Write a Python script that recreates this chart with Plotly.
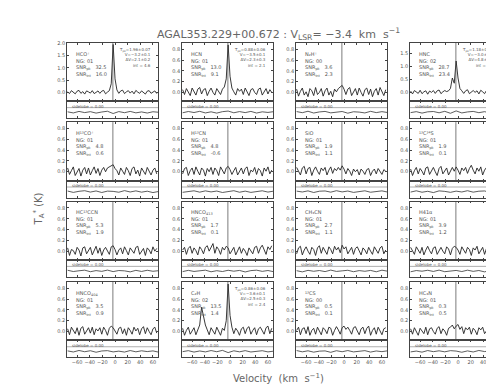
import plotly.graph_objects as go

# ---------------- data ----------------
velocity = [-75,-72,-69,-66,-63,-60,-57,-54,-51,-48,-45,-42,-39,-36,-33,-30,-27,-24,-21,-18,
            -15,-12,-9,-6,-3,0,3,6,9,12,15,18,21,24,27,30,33,36,39,42,45,48,51,54,57,60,63,66]
res_velocity = [-75,-66,-57,-48,-39,-30,-21,-12,-3,6,15,24,33,42,51,60,69]
v_lsr = -3.4

line_names = ["HCO⁺","HCN","N₂H⁺","HNC",
              "H¹³CO⁺","H¹³CN","SiO","¹³C³⁴S",
              "HC¹³CCN","HNCO<sub>413</sub>","CH₃CN","H41α",
              "HNCO<sub>404</sub>","C₂H","¹³CS","HC₃N"]
ng_labels = ["01","01","00","02","01","01","01","01","01","01","01","01","01","02","00","01"]
snr_pk = ["32.5","13.0","3.6","28.7","4.8","4.8","1.9","1.9","5.3","1.7","2.7","3.9","3.5","13.5","0.5","0.3"]
snr_int = ["16.0","9.1","2.3","23.4","0.6","-0.6","1.1","0.1","1.9","0.1","1.1","1.2","0.9","1.4","0.1","0.5"]
fit_text = {0: "T<sub>pk</sub>=1.96±0.07<br>V=−3.2±0.1<br>ΔV=2.1±0.2<br>int = 4.6",
            1: "T<sub>pk</sub>=0.88±0.06<br>V=−3.5±0.1<br>ΔV=2.3±0.3<br>int = 2.1",
            3: "T<sub>pk</sub>=1.18±0.07<br>V=−3.0±0.2<br>ΔV=4.8±0.4<br>int = 5.9",
            13: "T<sub>pk</sub>=0.86±0.06<br>V=−3.6±0.1<br>ΔV=2.5±0.3<br>int = 2.4"}

y_max = [2.02,0.92,0.92,1.90, 0.92,0.92,0.92,0.92, 0.92,0.92,0.92,0.92, 0.92,0.92,0.92,0.92]
y_ticks = [[0,0.5,1.0,1.5,2.0],[0,0.2,0.4,0.6,0.8],[0,0.2,0.4,0.6,0.8],[0,0.5,1.0,1.5]] + \
          [[0,0.2,0.4,0.6,0.8]] * 12

spectra = [
 [0.02,-0.05,0.07,0.00,-0.06,0.05,0.08,-0.04,0.03,-0.07,0.06,0.02,-0.03,0.07,-0.05,0.00,0.06,-0.04,0.05,0.08,-0.06,0.01,0.07,0.35,1.95,0.55,0.10,-0.04,0.06,0.09,-0.05,0.02,0.07,-0.03,0.05,-0.06,0.08,0.01,-0.04,0.06,0.00,-0.07,0.05,0.07,-0.04,0.01,0.06,-0.05],
 [0.05,-0.04,0.07,0.01,-0.06,0.08,0.02,-0.05,0.06,0.09,-0.03,0.05,0.07,-0.06,0.02,0.08,0.00,-0.05,0.07,0.02,-0.04,0.06,0.10,0.25,0.88,0.30,0.08,0.01,-0.05,0.07,0.02,0.06,-0.04,0.08,0.01,-0.06,0.05,0.07,0.00,-0.04,0.06,0.08,-0.05,0.02,0.07,-0.03,0.05,0.00],
 [0.06,-0.07,0.02,0.08,-0.05,0.01,-0.08,0.07,0.03,-0.06,0.09,-0.04,0.00,0.07,-0.07,0.03,0.08,-0.05,0.02,-0.08,0.06,0.01,0.07,0.10,0.13,0.06,-0.04,0.06,0.09,-0.06,0.02,0.07,-0.05,0.08,0.00,-0.07,0.05,0.08,-0.04,0.06,-0.08,0.02,0.07,-0.05,0.09,0.01,-0.06,0.05],
 [0.05,-0.06,0.07,0.01,-0.04,0.08,-0.05,0.02,0.06,-0.07,0.05,0.00,0.07,-0.04,0.06,0.09,-0.05,0.02,0.07,0.03,0.06,0.15,0.55,0.35,1.20,0.55,0.15,0.06,-0.04,0.06,0.10,-0.05,0.02,0.07,0.00,0.06,-0.06,0.08,0.02,-0.05,0.07,0.01,0.06,-0.04,0.08,0.03,-0.06,0.02],
 [0.07,-0.05,0.02,0.09,-0.07,0.01,0.06,-0.08,0.03,0.08,-0.04,0.07,-0.06,0.02,0.09,-0.03,0.06,-0.07,0.03,0.08,0.00,0.07,0.09,0.10,0.13,0.06,0.02,-0.06,0.07,0.01,-0.05,0.08,0.02,-0.07,0.06,0.09,-0.04,0.03,-0.08,0.07,0.01,-0.05,0.08,0.02,-0.06,0.03,0.07,-0.04],
 [-0.04,0.06,0.08,-0.07,0.02,0.07,-0.05,0.09,0.01,-0.06,0.07,0.03,-0.08,0.06,0.00,0.08,-0.05,0.07,0.02,-0.07,0.09,0.03,-0.04,0.07,0.10,0.04,-0.05,0.02,0.08,-0.06,0.01,0.07,-0.04,0.06,0.09,-0.07,0.03,0.00,0.08,-0.05,0.06,0.02,-0.08,0.07,0.01,0.09,-0.04,0.03],
 [0.08,0.02,-0.06,0.07,0.10,-0.04,0.06,0.08,-0.07,0.03,0.09,0.01,-0.05,0.07,0.02,0.08,-0.06,0.03,0.09,-0.03,0.06,0.02,0.08,0.03,0.11,0.05,-0.04,0.06,0.01,-0.07,0.05,0.00,0.04,-0.06,0.05,0.01,-0.05,0.04,0.06,-0.07,0.01,0.05,-0.04,0.06,0.00,-0.05,0.04,0.01],
 [0.05,-0.07,0.02,0.08,-0.04,0.06,0.01,-0.06,0.07,0.09,-0.05,0.02,0.08,0.00,-0.07,0.06,0.10,-0.04,0.03,0.07,-0.06,0.02,0.08,0.01,0.09,0.03,-0.05,0.07,0.02,0.08,-0.03,0.06,0.12,0.03,-0.04,0.07,0.01,0.09,-0.06,0.03,0.08,0.02,-0.05,0.07,0.10,0.01,0.06,-0.04],
 [0.06,-0.08,0.03,0.01,-0.06,0.07,0.02,-0.09,0.06,0.08,-0.05,0.01,0.07,-0.07,0.03,0.09,-0.04,0.06,-0.08,0.02,0.07,0.00,-0.06,0.08,0.10,0.03,-0.07,0.02,0.06,-0.05,0.08,0.01,-0.07,0.06,0.02,-0.04,0.07,0.09,-0.06,0.01,0.05,-0.08,0.06,0.02,-0.05,0.08,0.00,0.05],
 [0.02,0.07,-0.06,0.05,0.09,-0.04,0.06,0.01,-0.07,0.08,0.03,-0.05,0.07,0.10,0.00,0.06,0.14,-0.04,0.08,0.03,-0.06,0.07,0.02,0.09,0.06,-0.05,0.01,0.07,-0.07,0.02,0.08,-0.04,0.05,0.00,-0.08,0.06,0.01,-0.05,0.07,0.09,-0.04,0.06,0.11,0.02,-0.06,0.08,0.03,0.10],
 [-0.05,0.06,0.09,-0.07,0.02,0.08,0.00,-0.06,0.07,0.03,-0.08,0.06,0.10,-0.04,0.07,0.01,-0.06,0.08,0.03,-0.05,0.09,0.02,0.07,-0.03,0.11,0.04,0.08,-0.05,0.02,0.07,-0.06,0.05,0.08,0.01,-0.07,0.06,0.02,-0.05,0.07,0.00,-0.06,0.08,0.03,-0.04,0.06,0.09,-0.05,0.02],
 [0.07,0.01,-0.06,0.08,0.03,-0.04,0.07,-0.07,0.02,0.09,0.01,-0.05,0.06,0.08,-0.06,0.02,0.07,0.00,-0.05,0.08,0.04,-0.07,0.05,0.09,0.07,0.02,-0.06,0.08,0.01,-0.04,0.07,0.03,-0.08,0.06,0.02,0.09,-0.05,0.01,0.07,-0.06,0.05,0.08,-0.04,0.06,0.00,-0.07,0.05,0.07],
 [0.05,-0.06,0.08,0.01,-0.04,0.07,-0.07,0.06,0.09,-0.05,0.02,0.07,-0.03,0.08,-0.06,0.05,0.01,0.07,-0.05,0.08,0.02,-0.07,0.06,0.10,0.07,0.01,-0.05,0.06,0.08,-0.04,0.05,-0.07,0.07,0.02,-0.05,0.08,0.01,0.06,-0.06,0.05,0.09,-0.04,0.07,0.00,-0.06,0.05,0.08,-0.03],
 [0.06,-0.07,0.02,0.08,-0.05,0.01,0.07,-0.06,0.03,0.12,0.45,0.25,0.12,0.03,-0.06,0.07,0.02,-0.05,0.08,0.01,-0.07,0.06,0.02,0.20,0.88,0.30,0.08,-0.04,0.06,0.01,-0.07,0.05,0.08,-0.04,0.06,0.09,-0.05,0.02,0.07,-0.06,0.05,0.08,0.01,-0.05,0.07,0.10,-0.04,0.06],
 [0.02,0.08,-0.06,0.05,0.07,-0.04,0.09,-0.07,0.02,0.06,-0.05,0.08,0.01,-0.06,0.07,0.03,-0.04,0.08,0.06,-0.07,0.02,0.09,0.03,-0.05,0.07,0.10,0.04,0.08,0.02,-0.05,0.07,0.09,0.01,-0.06,0.05,0.08,-0.04,0.06,0.10,-0.07,0.02,0.07,-0.05,0.08,0.01,-0.06,0.05,0.07],
 [0.05,-0.05,0.07,0.01,-0.07,0.06,0.02,-0.04,0.08,-0.06,0.05,0.07,0.00,-0.05,0.06,0.09,-0.04,0.05,0.01,-0.07,0.06,0.08,0.12,0.05,0.10,0.13,0.04,0.09,-0.04,0.07,0.03,0.08,-0.05,0.06,0.02,-0.06,0.07,0.03,0.08,-0.04,0.01,0.06,-0.07,0.05,0.08,0.02,-0.05,0.07],
]

residuals = [
 [0.05,-0.08,0.10,-0.04,0.07,-0.10,0.03,0.12,-0.15,0.08,-0.05,0.10,-0.07,0.04,-0.09,0.06,0.00],
 [-0.06,0.09,-0.03,0.11,-0.08,0.05,-0.10,0.07,0.14,-0.06,0.08,-0.04,0.10,-0.09,0.05,-0.02,0.07],
 [0.08,-0.05,0.12,-0.09,0.04,0.10,-0.07,0.03,0.09,-0.11,0.06,0.02,-0.08,0.11,-0.04,0.07,-0.03],
 [-0.04,0.07,-0.10,0.05,0.09,-0.06,0.11,-0.12,0.16,-0.08,0.04,0.10,-0.05,0.07,-0.10,0.03,0.08],
 [0.07,-0.09,0.04,0.11,-0.05,0.08,-0.10,0.06,0.03,-0.07,0.12,-0.04,0.09,-0.06,0.05,-0.11,0.02],
 [-0.08,0.05,0.10,-0.06,0.09,-0.03,0.07,-0.10,0.04,0.11,-0.07,0.06,-0.09,0.03,0.10,-0.05,0.06],
 [0.06,-0.04,0.09,-0.10,0.05,0.08,-0.06,0.11,-0.03,0.07,-0.09,0.04,0.10,-0.07,0.02,0.09,-0.05],
 [-0.05,0.10,-0.07,0.04,-0.11,0.09,0.03,-0.08,0.06,-0.04,0.11,-0.06,0.05,0.08,-0.10,0.04,0.07],
 [0.09,-0.06,0.03,0.10,-0.08,0.05,-0.04,0.11,-0.07,0.06,0.02,-0.10,0.08,-0.05,0.09,-0.03,0.04],
 [-0.07,0.08,-0.05,0.06,0.10,-0.09,0.04,-0.06,0.09,-0.02,0.07,-0.11,0.05,0.10,-0.04,0.06,-0.08],
 [0.04,-0.10,0.08,-0.03,0.06,-0.07,0.11,-0.05,0.02,0.09,-0.08,0.05,-0.03,0.07,-0.09,0.10,-0.02],
 [-0.09,0.06,-0.02,0.09,-0.05,0.11,-0.08,0.03,0.07,-0.06,0.10,-0.04,0.06,-0.10,0.08,-0.03,0.05],
 [0.06,-0.07,0.11,-0.04,0.08,-0.10,0.05,0.09,-0.06,0.03,-0.08,0.10,-0.05,0.07,-0.02,0.06,-0.09],
 [-0.03,0.09,-0.08,0.05,-0.06,0.10,-0.04,0.12,-0.14,0.07,-0.05,0.09,-0.07,0.04,0.08,-0.06,0.03],
 [0.10,-0.05,0.07,-0.09,0.03,0.06,-0.11,0.08,-0.04,0.10,-0.06,0.02,0.09,-0.08,0.05,-0.03,0.07],
 [-0.06,0.04,-0.09,0.10,-0.03,0.07,-0.05,0.09,0.04,-0.10,0.06,-0.07,0.11,-0.02,0.05,-0.08,0.06],
]

# ---------------- layout ----------------
W, H = 494, 388
col_left = [59, 174, 288, 402]
row_top = [32, 112, 192, 273]
pw, mh, rh = 91, 59, 17
x_range = [-76, 68]
FONT = "DejaVu Sans"
TXT = "#555555"
LINE = "#444444"

def fx(p): return min(max(p / W, 0), 1)
def fy(p): return min(max(1 - p / H, 0), 1)

fig = go.Figure()
layout = dict(width=W, height=H, margin=dict(l=0, r=0, t=0, b=0),
              paper_bgcolor="white", plot_bgcolor="white", showlegend=False)
annotations, shapes = [], []

def axname(kind, n):
    return f"{kind}axis" if n == 1 else f"{kind}axis{n}"

def ref(kind, n):
    return kind if n == 1 else f"{kind}{n}"

for k in range(16):
    r, c = divmod(k, 4)
    L, T = col_left[c], row_top[r]
    nm, nr = 2 * k + 1, 2 * k + 2
    xd = [fx(L), fx(L + pw)]
    layout[axname("x", nm)] = dict(domain=xd, anchor=ref("y", nm), range=x_range,
        showline=True, mirror="ticks", linecolor=LINE, linewidth=0.8, showgrid=False,
        zeroline=False, ticks="inside", ticklen=2, tickcolor=LINE,
        tickvals=[-60, -40, -20, 0, 20, 40, 60], showticklabels=False)
    ymax = y_max[k]
    layout[axname("y", nm)] = dict(domain=[fy(T + mh), fy(T)], anchor=ref("x", nm),
        range=[-0.18 * ymax, ymax], showline=True, mirror="ticks", linecolor=LINE,
        linewidth=0.8, showgrid=False, zeroline=False, ticks="inside", ticklen=2,
        tickcolor=LINE, tickvals=y_ticks[k], tickformat=".1f",
        tickfont=dict(size=5, color=TXT, family=FONT))
    layout[axname("x", nr)] = dict(domain=xd, anchor=ref("y", nr), range=x_range,
        showline=True, mirror="ticks", linecolor=LINE, linewidth=0.8, showgrid=False,
        zeroline=False, ticks="inside", ticklen=2, tickcolor=LINE,
        tickvals=[-60, -40, -20, 0, 20, 40, 60], showticklabels=(r == 3),
        tickfont=dict(size=5, color=TXT, family=FONT))
    layout[axname("y", nr)] = dict(domain=[fy(T + mh + rh), fy(T + mh)], anchor=ref("x", nr),
        range=[-0.7, 1.3], showline=True, mirror=True, linecolor=LINE, linewidth=0.8,
        showgrid=False, zeroline=False, ticks="", showticklabels=False)

    fig.add_trace(go.Scatter(x=velocity, y=spectra[k], mode="lines", xaxis=ref("x", nm),
        yaxis=ref("y", nm), line=dict(color="#222222", width=0.9),
        hoverinfo="skip"))
    fig.add_trace(go.Scatter(x=res_velocity, y=residuals[k], mode="lines", xaxis=ref("x", nr),
        yaxis=ref("y", nr), line=dict(color="#333333", width=0.8), hoverinfo="skip"))

    shapes.append(dict(type="line", xref=ref("x", nm), yref=f"{ref('y', nm)} domain",
        x0=v_lsr, x1=v_lsr, y0=0, y1=1, line=dict(color=LINE, width=0.7)))
    shapes.append(dict(type="line", xref=f"{ref('x', nr)} domain", yref=ref("y", nr),
        x0=0, x1=1, y0=0.55, y1=0.55, line=dict(color="#777777", width=0.6)))

    annotations.append(dict(xref=f"{ref('x', nm)} domain", yref=f"{ref('y', nm)} domain",
        x=0.08, y=0.9, xanchor="left", yanchor="top", align="left", showarrow=False,
        text=f"{line_names[k]}<br>NG: {ng_labels[k]}<br>SNR<sub>pk</sub>   {snr_pk[k]}<br>SNR<sub>int</sub>   {snr_int[k]}",
        font=dict(size=5, color=TXT, family=FONT)))
    if k in fit_text:
        annotations.append(dict(xref=f"{ref('x', nm)} domain", yref=f"{ref('y', nm)} domain",
            x=0.95, y=0.97, xanchor="right", yanchor="top", align="right", showarrow=False,
            text=fit_text[k], font=dict(size=4, color=TXT, family=FONT)))
    annotations.append(dict(xref=f"{ref('x', nr)} domain", yref=f"{ref('y', nr)} domain",
        x=0.03, y=0.98, xanchor="left", yanchor="top", showarrow=False,
        text="sidelobe = 0.00", font=dict(size=4, color=TXT, family=FONT)))

annotations.append(dict(xref="paper", yref="paper", x=fx(270), y=fy(13), showarrow=False,
    text="AGAL353.229+00.672 : V<sub>LSR</sub>= −3.4  km  s<sup>−1</sup>",
    font=dict(size=11, color="#666666", family=FONT)))
annotations.append(dict(xref="paper", yref="paper", x=fx(270), y=fy(378), showarrow=False,
    text="Velocity  (km  s<sup>−1</sup>)", font=dict(size=10, color="#666666", family=FONT)))
annotations.append(dict(xref="paper", yref="paper", x=fx(22), y=fy(200), showarrow=False,
    textangle=-90, text="T<sub>A</sub><sup>*</sup> (K)",
    font=dict(size=10, color="#666666", family=FONT)))

layout["annotations"] = annotations
layout["shapes"] = shapes
fig.update_layout(**layout)
fig.write_html("out.html")
